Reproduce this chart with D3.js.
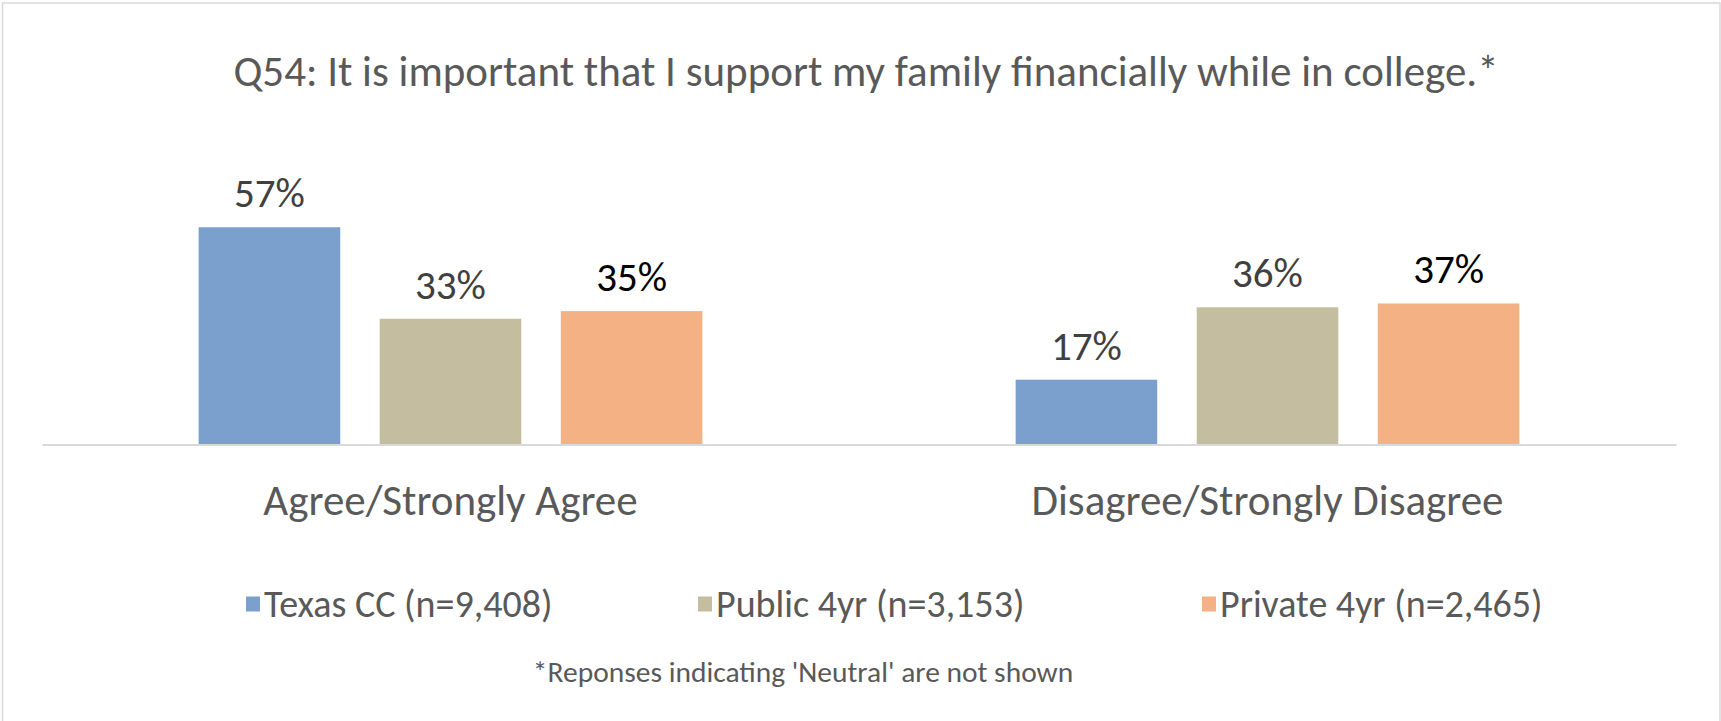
<!DOCTYPE html>
<html>
<head>
<meta charset="utf-8">
<script src="https://cdn.jsdelivr.net/npm/d3@7"></script>
<style>
  html, body { margin: 0; padding: 0; background: #fff; }
  svg { display: block; }
  text { font-family: Carlito, Calibri, Lato, "Open Sans", sans-serif; }
</style>
</head>
<body>
<svg id="chart" width="1721" height="721"></svg>
<script>
// ---- data ----
const title = "Q54: It is important that I support my family financially while in college.*";
const footnote = "*Reponses indicating 'Neutral' are not shown";
const categories = ["Agree/Strongly Agree", "Disagree/Strongly Disagree"];
const seriesNames = ["Texas CC (n=9,408)", "Public 4yr (n=3,153)", "Private 4yr (n=2,465)"];
const texasCC   = [0.57, 0.17];
const public4yr = [0.33, 0.36];
const private4yr = [0.35, 0.37];
const valueLabels = [["57%", "17%"], ["33%", "36%"], ["35%", "37%"]];

// ---- styles ----
const colors = ["#7ba0cd", "#c4bd9f", "#f4b183"];
const labelColors = ["#404040", "#404040", "#000000"];
const seriesValues = [texasCC, public4yr, private4yr];

const svg = d3.select("#chart");

// outer border
svg.append("rect")
  .attr("x", 2.5).attr("y", 3).attr("width", 1717.5).attr("height", 730)
  .attr("fill", "#fff").attr("stroke", "#d9d9d9").attr("stroke-width", 1.5);

const plot = { left: 42, right: 1676, top: 215.8, bottom: 444.5 };

const x0 = d3.scaleBand().domain(categories).range([plot.left, plot.right]).padding(0);
const x1 = d3.scaleBand().domain(seriesNames).range([0, x0.bandwidth()])
  .paddingInner(0.218).paddingOuter(0.865);
const y = d3.scaleLinear().domain([0, 0.6]).range([plot.bottom, plot.top]);

// title
svg.append("text")
  .attr("x", 866).attr("y", 71)
  .attr("text-anchor", "middle").attr("dominant-baseline", "central")
  .attr("fill", "#595959").attr("font-size", 43)
  .text(title);

// bars
const groups = svg.selectAll("g.cat").data(categories).join("g")
  .attr("class", "cat")
  .attr("transform", d => `translate(${x0(d)},0)`);

groups.each(function(cat, ci) {
  const g = d3.select(this);
  seriesNames.forEach((s, si) => {
    const v = seriesValues[si][ci];
    g.append("rect")
      .attr("x", x1(s)).attr("y", y(v))
      .attr("width", x1.bandwidth()).attr("height", y(0) - y(v))
      .attr("fill", colors[si]);
    g.append("text")
      .attr("x", x1(s) + x1.bandwidth() / 2).attr("y", y(v) - 20)
      .attr("text-anchor", "middle")
      .attr("fill", labelColors[si]).attr("font-size", 41)
      .text(valueLabels[si][ci]);
  });
});

// x axis
const xAxis = d3.axisBottom(x0).tickSize(0).tickPadding(0);
const ax = svg.append("g").attr("transform", `translate(0,${plot.bottom})`).call(xAxis);
ax.select(".domain").attr("stroke", "#d9d9d9").attr("stroke-width", 2);
ax.selectAll(".tick text")
  .attr("y", 56).attr("dy", 0)
  .attr("dominant-baseline", "central")
  .attr("fill", "#595959").attr("font-size", 43)
  .style("font-family", "Carlito, Calibri, Lato, 'Open Sans', sans-serif");

// legend
const legendX = [246, 698, 1202];
const legend = svg.append("g");
seriesNames.forEach((s, i) => {
  const lg = legend.append("g").attr("transform", `translate(${legendX[i]},604)`);
  lg.append("rect").attr("x", 0).attr("y", -7.5).attr("width", 14).attr("height", 15).attr("fill", colors[i]);
  lg.append("text").attr("x", 18).attr("y", 0)
    .attr("dominant-baseline", "central")
    .attr("fill", "#595959").attr("font-size", 38)
    .text(s);
});

// footnote
svg.append("text")
  .attr("x", 803).attr("y", 672)
  .attr("text-anchor", "middle").attr("dominant-baseline", "central")
  .attr("fill", "#595959").attr("font-size", 29.5)
  .text(footnote);
</script>
</body>
</html>
